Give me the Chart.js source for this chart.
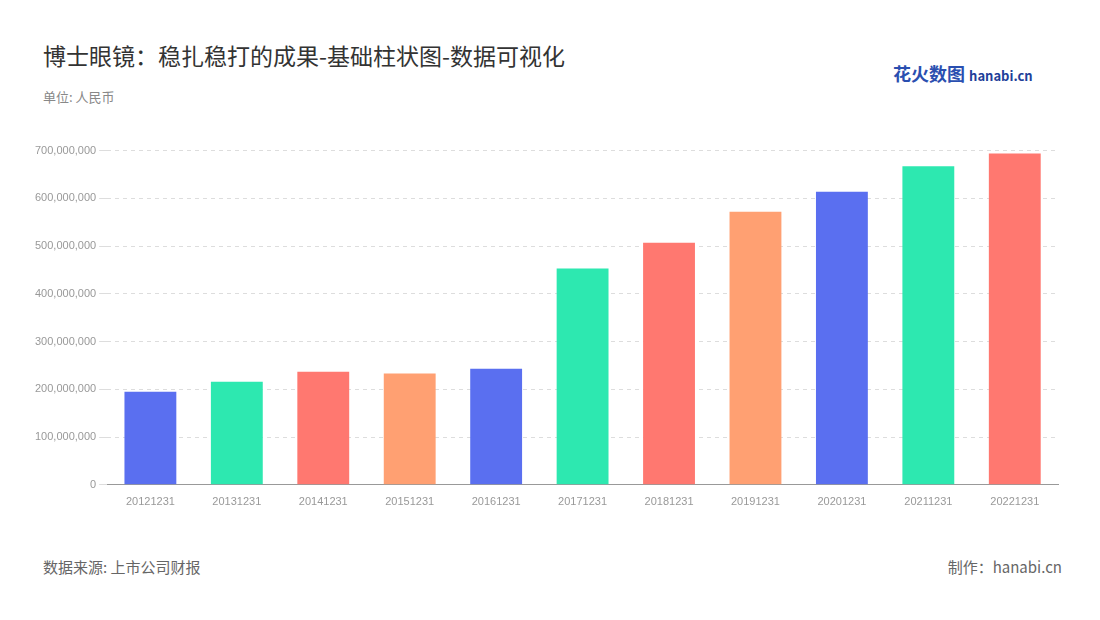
<!DOCTYPE html>
<html><head><meta charset="utf-8">
<script src="https://cdn.jsdelivr.net/npm/chart.js@4"></script>
<style>
body{margin:0;width:1100px;height:620px;background:#fff;font-family:"Noto Sans CJK SC","Noto Sans",sans-serif;position:relative;overflow:hidden}
#title{position:absolute;left:43px;top:38px;font-size:23px;color:#333}
#unit{position:absolute;left:43px;top:87px;font-size:13px;color:#888}
#logo{position:absolute;left:893px;top:60px;font-size:18px;font-weight:bold;color:#2a4fb0}
#logo span{font-size:13px;color:#1f3f9a}
#src{position:absolute;left:43px;top:556px;font-size:15px;color:#666}
#made{position:absolute;right:38px;top:556px;font-size:15px;color:#666}
#wrap{position:absolute;left:32px;top:141px;width:1030px;height:371px}
</style></head><body>
<div id="title">博士眼镜：稳扎稳打的成果-基础柱状图-数据可视化</div>
<div id="unit">单位: 人民币</div>
<div id="logo">花火数图 <span>hanabi.cn</span></div>
<div id="src">数据来源: 上市公司财报</div>
<div id="made">制作：hanabi.cn</div>
<div id="wrap"><canvas id="c"></canvas></div>
<script>
const years = ['20121231','20131231','20141231','20151231','20161231','20171231','20181231','20191231','20201231','20211231','20221231'];
const revenue = [195000000,216000000,237000000,233000000,243000000,453000000,507000000,572000000,614000000,667000000,694000000];
const palette = ['#5a6ff0','#2de8b0','#ff7870','#ffa072'];
const ctx = document.getElementById('c').getContext('2d');
new Chart(ctx, {
  type: 'bar',
  data: {
    labels: years,
    datasets: [{
      data: revenue,
      backgroundColor: revenue.map((v, i) => palette[i % 4]),
      categoryPercentage: 1,
      barPercentage: 0.6
    }]
  },
  options: {
    responsive: true,
    maintainAspectRatio: false,
    animation: false,
    layout: {padding: {right: 4}},
    plugins: {legend: {display: false}, tooltip: {enabled: false}},
    scales: {
      x: {
        grid: {display: false},
        border: {color: '#999'},
        ticks: {color: '#999', font: {size: 11}}
      },
      y: {
        min: 0, max: 700000000,
        ticks: {stepSize: 100000000, color: '#999', font: {size: 11},
          callback: v => v.toLocaleString('en-US')},
        grid: {color: '#ddd'},
        border: {display: false, dash: [4, 4]}
      }
    }
  }
});
</script>
</body></html>
